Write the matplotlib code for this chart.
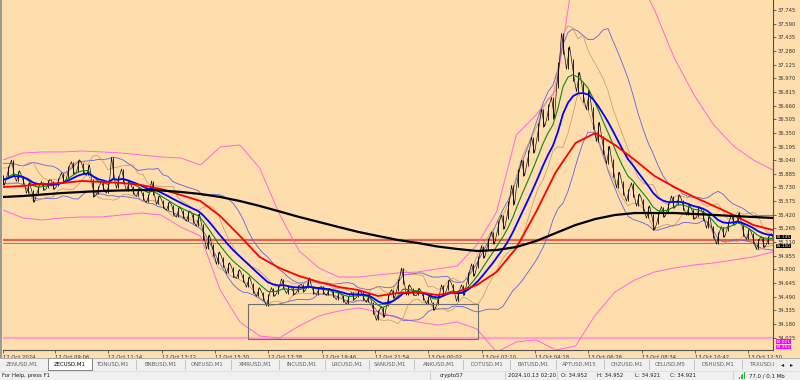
import numpy as np
import pandas as pd
import matplotlib
matplotlib.use("Agg")
import matplotlib.pyplot as plt
from matplotlib.patches import Rectangle
from matplotlib.lines import Line2D
import matplotlib.transforms as mtrans

plt.rcParams['font.family'] = ['DejaVu Sans']

# ---------------- data ----------------
close = [
    35.815, 35.906, 35.951, 35.860, 35.815, 35.724, 35.633, 35.701, 35.747, 35.769,
    35.758, 35.792, 35.838, 35.906, 35.951, 35.974, 35.951, 35.928, 35.724, 35.701,
    35.747, 35.724, 35.951, 35.792, 35.860, 35.747, 35.701, 35.679, 35.633, 35.611,
    35.724, 35.588, 35.542, 35.520, 35.474, 35.452, 35.429, 35.406, 35.384, 35.361,
    35.225, 35.111, 35.020, 34.929, 34.884, 34.816, 34.771, 34.748, 34.702, 34.657,
    34.589, 34.544, 34.498, 34.453, 34.544, 34.566, 34.634, 34.566, 34.555, 34.578,
    34.589, 34.646, 34.566, 34.555, 34.566, 34.544, 34.521, 34.498, 34.475, 34.453,
    34.498, 34.521, 34.498, 34.475, 34.362, 34.282, 34.317, 34.453, 34.521, 34.623,
    34.725, 34.566, 34.544, 34.544, 34.498, 34.453, 34.385, 34.453, 34.566, 34.623,
    34.589, 34.498, 34.566, 34.702, 34.793, 34.884, 34.998, 35.088, 35.157, 35.270,
    35.338, 35.474, 35.645, 35.838, 35.951, 36.065, 36.212, 36.360, 36.519, 36.587,
    36.632, 37.007, 37.360, 37.200, 37.063, 36.927, 36.814, 36.723, 36.519, 36.360,
    36.212, 36.099, 35.951, 35.815, 35.724, 35.645, 35.701, 35.588, 35.531, 35.452,
    35.338, 35.384, 35.452, 35.497, 35.565, 35.588, 35.531, 35.474, 35.429, 35.452,
    35.418, 35.338, 35.225, 35.157, 35.225, 35.293, 35.361, 35.384, 35.247, 35.202,
    35.157, 35.088, 35.111, 35.134, 35.157,
]
spread = [
    0.12, 0.14, 0.18, 0.12, 0.10, 0.12, 0.14, 0.10, 0.10, 0.10,
    0.10, 0.10, 0.12, 0.14, 0.14, 0.14, 0.12, 0.12, 0.20, 0.10,
    0.10, 0.12, 0.24, 0.14, 0.16, 0.12, 0.10, 0.10, 0.10, 0.10,
    0.16, 0.10, 0.10, 0.10, 0.12, 0.12, 0.10, 0.12, 0.12, 0.14,
    0.18, 0.16, 0.14, 0.14, 0.12, 0.12, 0.12, 0.10, 0.10, 0.12,
    0.12, 0.10, 0.10, 0.14, 0.10, 0.08, 0.12, 0.08, 0.08, 0.08,
    0.08, 0.12, 0.08, 0.08, 0.08, 0.08, 0.08, 0.08, 0.08, 0.10,
    0.08, 0.08, 0.08, 0.10, 0.14, 0.12, 0.12, 0.14, 0.10, 0.14,
    0.18, 0.12, 0.08, 0.08, 0.08, 0.10, 0.10, 0.12, 0.12, 0.12,
    0.10, 0.12, 0.12, 0.14, 0.14, 0.14, 0.14, 0.14, 0.14, 0.16,
    0.16, 0.20, 0.22, 0.20, 0.18, 0.18, 0.18, 0.20, 0.20, 0.18,
    0.24, 0.30, 0.24, 0.26, 0.24, 0.22, 0.22, 0.22, 0.24, 0.22,
    0.20, 0.20, 0.20, 0.18, 0.16, 0.14, 0.16, 0.14, 0.14, 0.14,
    0.18, 0.14, 0.12, 0.12, 0.14, 0.12, 0.12, 0.12, 0.12, 0.12,
    0.12, 0.14, 0.14, 0.14, 0.12, 0.12, 0.12, 0.12, 0.14, 0.12,
    0.12, 0.12, 0.12, 0.10, 0.10,
]
red_ma = [
    35.735, 35.747, 35.769, 35.781, 35.804, 35.792, 35.781, 35.758, 35.713, 35.645,
    35.576, 35.406, 35.179, 34.941, 34.816, 34.725, 34.657, 34.600, 34.566, 34.498,
    34.532, 34.544, 34.509, 34.544, 34.623, 34.771, 35.043, 35.452, 35.906, 36.235,
    36.348, 36.212, 36.042, 35.860, 35.735, 35.622, 35.520, 35.418, 35.304, 35.247,
]
black_ma = [
    35.622, 35.633, 35.650, 35.667, 35.679, 35.690, 35.696, 35.701, 35.696, 35.679,
    35.656, 35.622, 35.576, 35.520, 35.458, 35.395, 35.338, 35.281, 35.225, 35.179,
    35.134, 35.100, 35.060, 35.032, 35.009, 35.020, 35.054, 35.122, 35.213, 35.304,
    35.372, 35.418, 35.440, 35.440, 35.440, 35.429, 35.418, 35.406, 35.395, 35.384,
]
pink_upper = [
    36.042, 36.121, 36.133, 36.133, 36.144, 36.133, 36.121, 36.099, 36.076, 36.065,
    35.985, 36.189, 36.212, 35.951, 35.429, 35.009, 34.816, 34.714, 34.714, 34.737,
    34.759, 34.771, 34.805, 34.839, 35.077, 35.452, 36.326, 36.553, 36.836, 38.312,
    38.766, 38.653, 38.199, 37.744, 37.200, 36.780, 36.439, 36.201, 36.042, 35.928,
]
pink_lower = [
    35.474, 35.384, 35.361, 35.384, 35.395, 35.395, 35.418, 35.440, 35.418, 35.281,
    35.179, 34.566, 34.203, 34.044, 34.021, 34.158, 34.271, 34.328, 34.362, 34.317,
    34.248, 34.203, 34.169, 34.203, 34.124, 33.862, 33.976, 33.999, 33.885, 33.931,
    34.282, 34.544, 34.680, 34.771, 34.816, 34.850, 34.873, 34.907, 34.942, 34.998,
]
red_level = 35.135
brown_level = 35.148
gray_level = 35.100
pink_level = 34.021
bid_labels = [35.145, 35.100]
alert_labels = [34.021, 33.953]
box_bars = [49, 95]
box_prices = [34.010, 34.407]

price_ticks = [round(37.745 - 0.155 * k, 3) for k in range(25)]
time_labels = ["12 Oct 2024", "12 Oct 09:06", "12 Oct 11:14", "12 Oct 13:22", "12 Oct 15:30",
               "12 Oct 17:38", "12 Oct 19:46", "12 Oct 21:54", "13 Oct 00:02", "13 Oct 02:10",
               "13 Oct 04:18", "13 Oct 06:26", "13 Oct 08:34", "13 Oct 10:42", "13 Oct 12:50"]
time_bars = [0, 10.4, 21.0, 31.8, 42.4, 53.0, 63.8, 74.4, 85.0, 95.8, 106.4, 117.0, 127.8, 138.4, 149.0]

tabs = ["ZENUSD,M1", "ZECUSD,M1", "TONUSD,M1", "BNBUSD,M1", "ONEUSD,M1", "XMRUSD,M1",
        "INCUSD,M1", "LRCUSD,M1", "SANUSD,M1", "ANKUSD,M1", "DOTUSD,M1", "BATUSD,M1",
        "APTUSD,M15", "CHZUSD,M1", "CELUSD,M5", "DSHUSD,M1", "TRXUSD,I"]
active_tab = "ZECUSD,M1"
status_items = ["crypto57", "2024.10.13 02:20", "O: 34.952", "H: 34.952", "L: 34.921", "C: 34.921"]
memory_text = "77.0 / 0.1 Mb"

# ---------------- figure ----------------
W, H = 800, 380
BG = '#ffdead'
fig = plt.figure(figsize=(W / 100, H / 100), dpi=100, facecolor=BG)

def fx(px):
    return px / W

def fy(py):
    return 1 - py / H

ax = fig.add_axes([fx(3), fy(350), fx(773) - fx(3), fy(0) - fy(350)])
ax.set_facecolor(BG)

c = np.array(close)
sp = np.array(spread)
n = len(c)
xb = np.arange(n)
hi = c + sp / 2
lo = c - sp / 2

s = pd.Series(c)
green = s.ewm(span=5, adjust=False).mean()
blue = s.ewm(span=9, adjust=False).mean()
mid = s.rolling(10, min_periods=3).mean().bfill()
sd = s.rolling(10, min_periods=3).std(ddof=0).bfill()
tmid = s.rolling(5, min_periods=2).mean().bfill()
tsd = s.rolling(5, min_periods=2).std(ddof=0).bfill()

xm = np.linspace(0, n - 1, len(red_ma))

# levels
ax.axhline(pink_level, color='#ffa0c8', lw=1.6, zorder=1)
ax.axhline(brown_level, color='#a06a50', lw=0.7, zorder=1)
ax.axhline(red_level, color='#ea6050', lw=1.6, zorder=1)
ax.axhline(gray_level, color='#808080', lw=0.7, zorder=1)

# pink bands
ax.plot(xm, pink_upper, color='#ff66dd', lw=0.7, zorder=2)
ax.plot(xm, pink_lower, color='#ff66dd', lw=0.7, zorder=2)
# thin blue bands
ax.plot(xb, mid + 2 * sd, color='#6060e0', lw=0.6, zorder=2)
ax.plot(xb, mid - 2 * sd, color='#6060e0', lw=0.6, zorder=2)
# tan bands
ax.plot(xb, tmid + 2 * tsd, color='#c49464', lw=0.5, zorder=2)
ax.plot(xb, tmid - 2 * tsd, color='#c49464', lw=0.5, zorder=2)

# price (dense candles look)
ax.vlines(xb, lo, hi, color='black', lw=0.6, zorder=3)
zx = np.column_stack([xb - 0.3, xb + 0.3]).ravel()
zy = np.column_stack([np.where(xb % 2 == 0, hi, lo), np.where(xb % 2 == 0, lo, hi)]).ravel()
ax.plot(zx, zy, color='black', lw=0.45, zorder=3)

ax.plot(xb, green, color='#0a8a0a', lw=0.8, zorder=4)
ax.plot(xb, blue, color='#0000ff', lw=1.3, zorder=4)
ax.plot(xm, red_ma, color='#ff0000', lw=1.3, zorder=4)
ax.plot(xm, black_ma, color='#000000', lw=1.6, zorder=5)

ax.add_patch(Rectangle((box_bars[0], box_prices[0]), box_bars[1] - box_bars[0],
                       box_prices[1] - box_prices[0], fill=False, ec='#6e6e6e', lw=0.8, zorder=6))

ax.set_xlim(0, n - 1)
ax.set_ylim(33.885, 37.858)

for sname in ['top', 'left']:
    ax.spines[sname].set_visible(False)
for sname in ['right', 'bottom']:
    ax.spines[sname].set_color('#505050')
    ax.spines[sname].set_linewidth(0.8)

ax.yaxis.tick_right()
ax.set_yticks(price_ticks)
ax.set_yticklabels([f"{p:.3f}" for p in price_ticks])
ax.set_xticks(time_bars)
ax.set_xticklabels(time_labels)
for lbl in ax.get_xticklabels():
    lbl.set_ha('left')
ax.tick_params(axis='y', direction='out', length=2, width=0.5, pad=1.2,
               labelsize=3.8, colors='#303030')
ax.tick_params(axis='x', direction='out', length=2.5, width=0.5, pad=1.2,
               labelsize=3.8, colors='#303030')

# price labels on the scale (stacked)
tr = mtrans.blended_transform_factory(ax.transAxes, ax.transData)

def scale_label(p, fc, dy_pt):
    t = mtrans.offset_copy(tr, fig=fig, x=0, y=dy_pt, units='points')
    ax.text(1.004, p, f"{p:.3f}", transform=t, fontsize=3.1, color='white', va='center',
            ha='left', clip_on=False, zorder=10,
            bbox=dict(boxstyle='square,pad=0.05', fc=fc, ec='none'))

scale_label(bid_labels[0], 'black', 1.5)
scale_label(bid_labels[1], 'black', -2.0)
scale_label(alert_labels[0], '#ff00ff', -2.6)
scale_label(alert_labels[1], '#ff00ff', -2.3)

# left grey strip
fig.add_artist(Rectangle((0, fy(358)), fx(2), fy(0) - fy(358), transform=fig.transFigure,
                         fc='#9a9a9a', ec='none'))

# tab bar + status bar
fig.add_artist(Rectangle((0, 0), 1, fy(358), transform=fig.transFigure, fc='#f0f0f0', ec='none'))
fig.add_artist(Line2D([0, 1], [fy(358), fy(358)], transform=fig.transFigure, color='#a0a0a0', lw=0.6))
fig.add_artist(Line2D([0, 1], [fy(370.5), fy(370.5)], transform=fig.transFigure, color='#d8d8d8', lw=0.5))

tab_centers = [22, 70, 112, 161, 207, 255, 302, 347, 390, 439, 487, 533, 579, 627, 670, 718, 762]
tab_seps = [136, 185, 231, 279, 325, 369, 414, 463, 510, 556, 604, 649, 694, 742]
fig.add_artist(Rectangle((fx(48), fy(370)), fx(44), fy(358) - fy(370), transform=fig.transFigure,
                         fc='white', ec='#707070', lw=0.6))
for name, cx in zip(tabs, tab_centers):
    fig.text(fx(cx), fy(364.3), name, fontsize=3.9, ha='center', va='center',
             color='#000000' if name == active_tab else '#606060')
for sx in tab_seps:
    fig.add_artist(Line2D([fx(sx), fx(sx)], [fy(360), fy(368.5)], transform=fig.transFigure,
                          color='#b0b0b0', lw=0.5))
fig.text(fx(783), fy(364.3), "\u25c2", fontsize=4.5, ha='center', va='center', color='#202020')
fig.text(fx(792), fy(364.3), "\u25b8", fontsize=4.5, ha='center', va='center', color='#202020')

fig.text(fx(2), fy(375.5), "For Help, press F1", fontsize=3.9, ha='left', va='center', color='#202020')
status_x = [440, 508, 561, 597, 635, 670]
for txt, sx in zip(status_items, status_x):
    fig.text(fx(sx), fy(375.5), txt, fontsize=3.9, ha='left', va='center', color='#202020')
for sx in [430, 505, 557, 733]:
    fig.add_artist(Line2D([fx(sx), fx(sx)], [fy(372), fy(379.5)], transform=fig.transFigure,
                          color='#c0c0c0', lw=0.5))
for k, hgt in enumerate([2, 3.5, 5, 6.5]):
    fig.add_artist(Rectangle((fx(739 + 1.6 * k), fy(378.5)), fx(1.1), hgt / H,
                             transform=fig.transFigure, fc='#2fb040', ec='none'))
fig.text(fx(749), fy(375.5), memory_text, fontsize=3.9, ha='left', va='center', color='#202020')

fig.savefig("out.png", dpi=100, facecolor=BG)
